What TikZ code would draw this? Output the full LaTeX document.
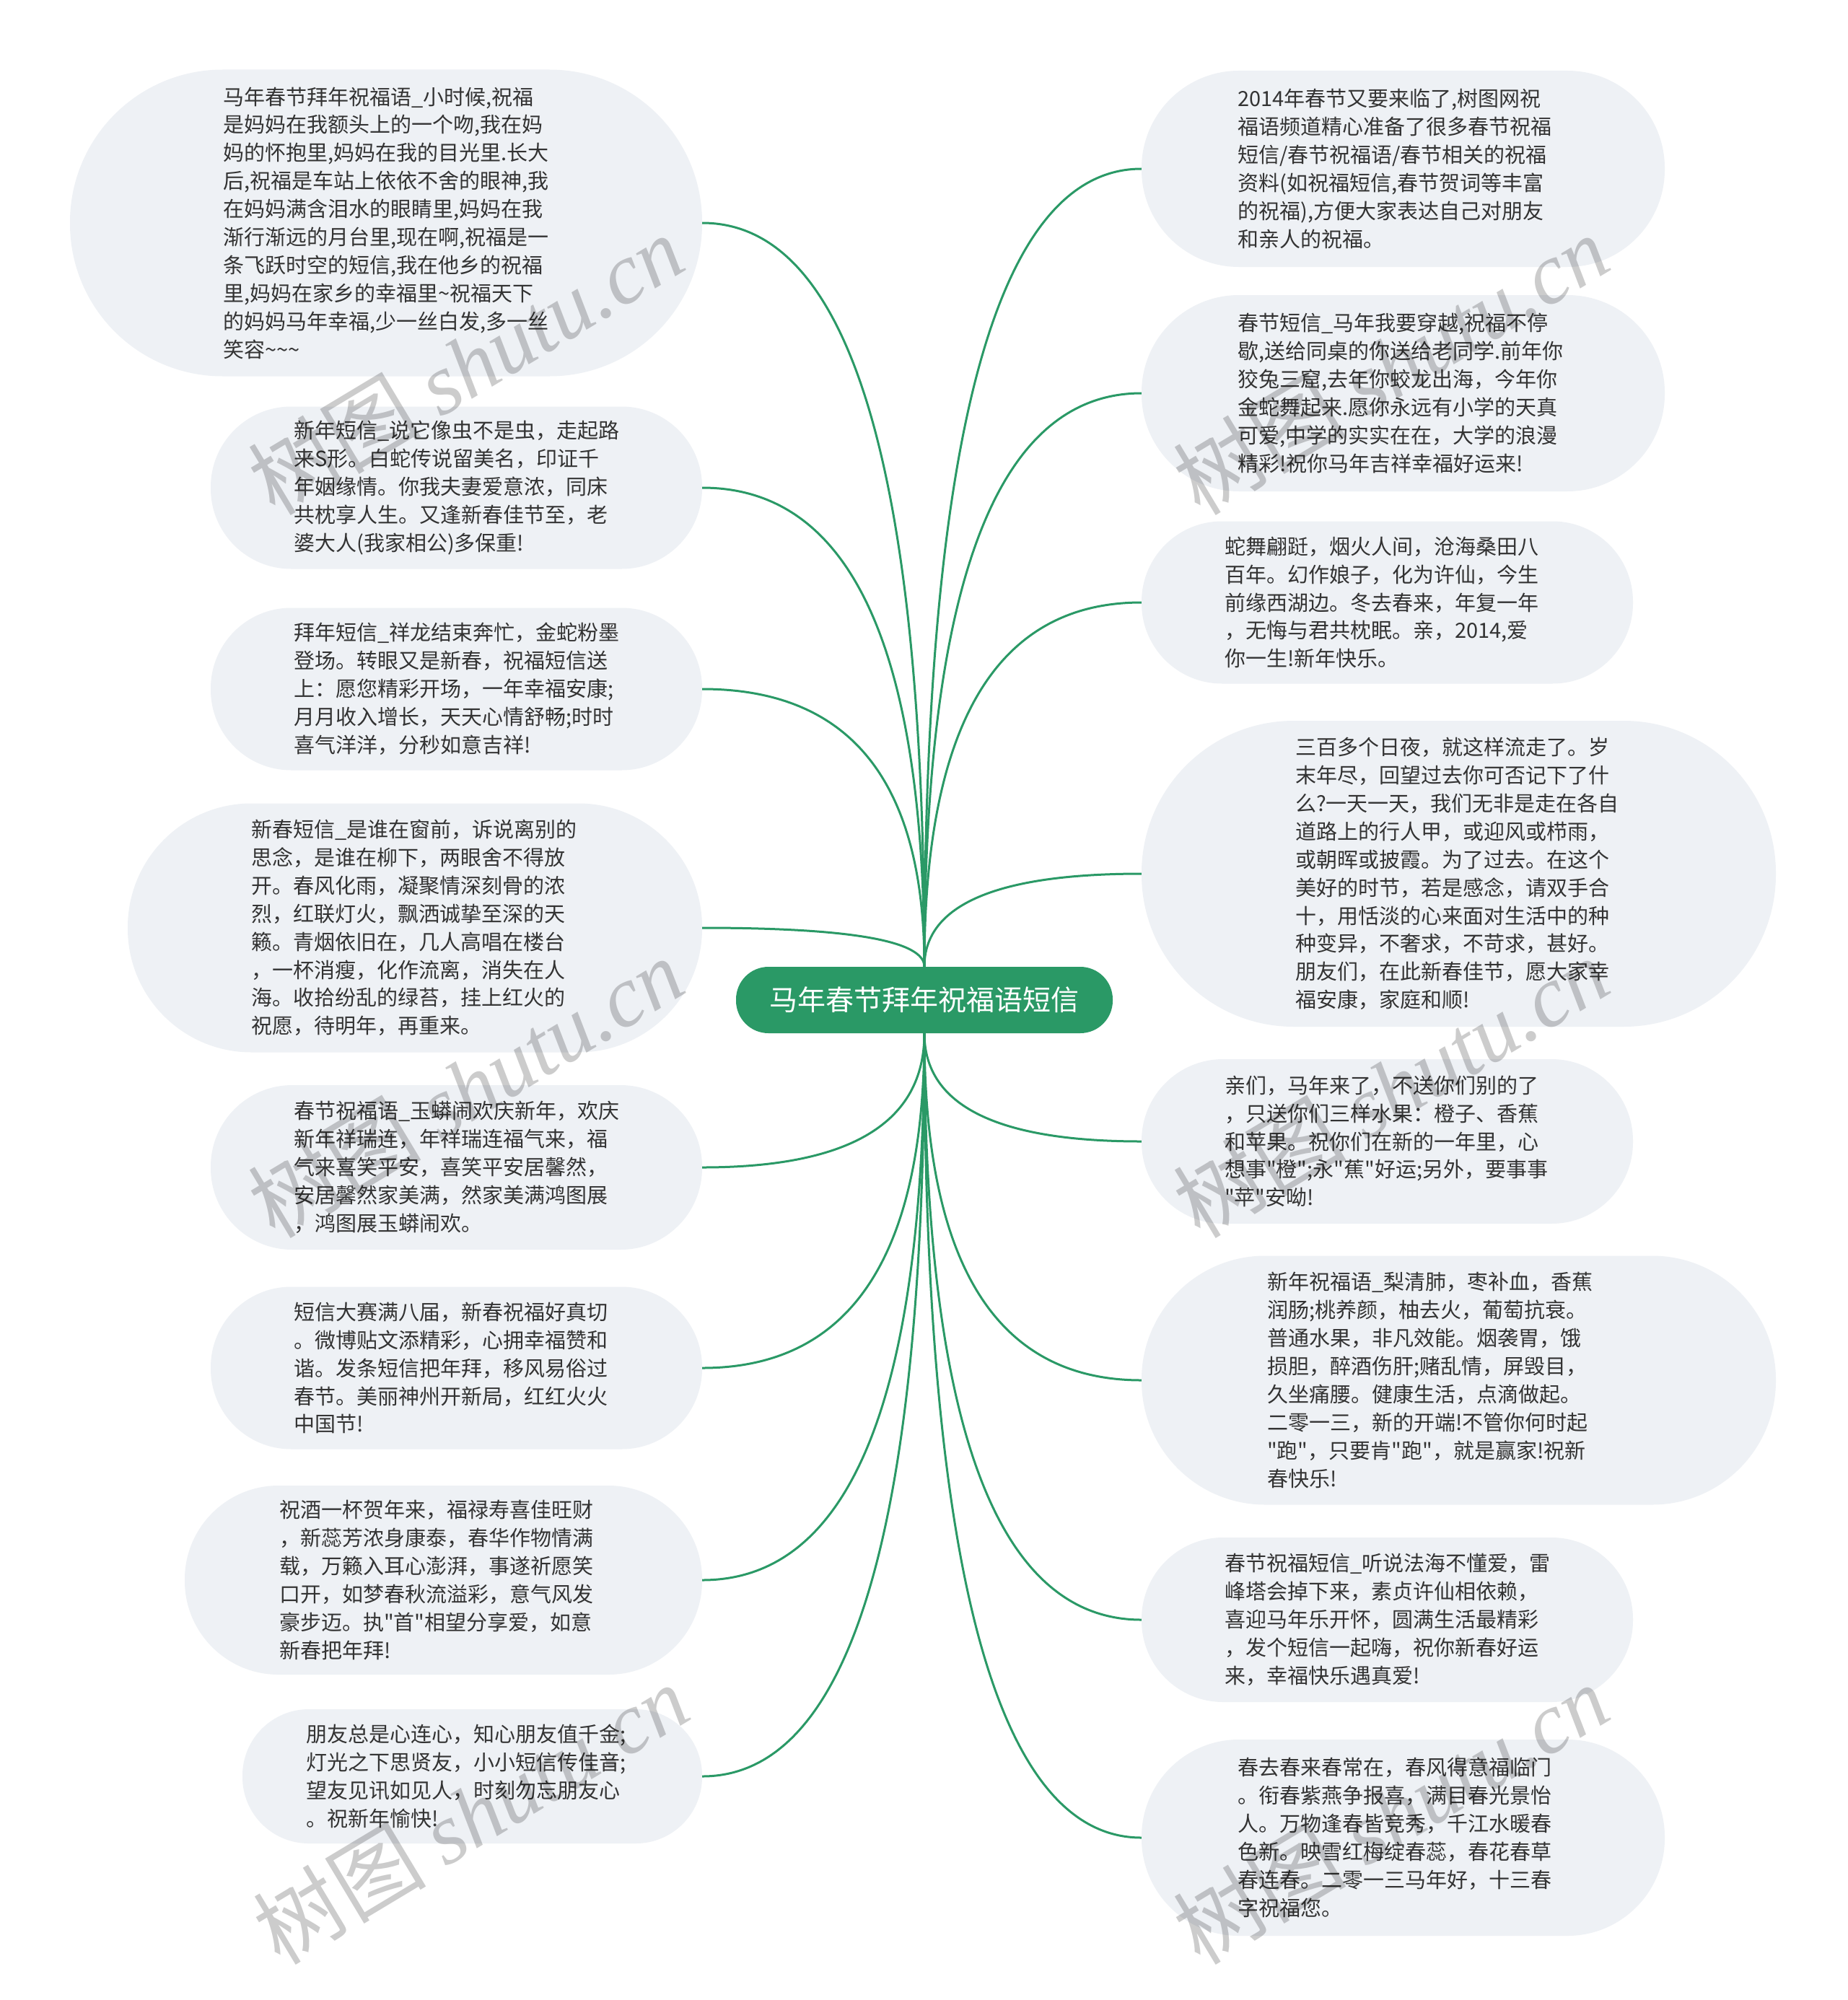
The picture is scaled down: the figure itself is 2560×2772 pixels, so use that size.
\documentclass[tikz,border=0pt]{standalone}
\usepackage{fontspec}
\setmainfont{Noto Sans CJK SC}[Ligatures=TeXOff]
\newfontfamily\wmlatin{Liberation Serif}
\usetikzlibrary{calc}
\definecolor{bubblefill}{HTML}{EEF1F5}
\definecolor{rootgreen}{HTML}{2A9966}
\definecolor{linegreen}{HTML}{2A9966}
\definecolor{txtcol}{HTML}{333333}
\tikzset{
  bubble/.style={draw=none, fill=bubblefill, inner sep=0pt},
  txt/.style={anchor=west, align=left, inner sep=0pt, text=txtcol, font=\fontsize{29}{38.9}\selectfont},
  root/.style={fill=rootgreen, text=white, font=\fontsize{39}{46}\selectfont, minimum width=522pt, minimum height=92pt, rounded corners=45pt, inner sep=0pt},
  conn/.style={draw=linegreen, line width=3pt},
  wm/.style={text=black, opacity=0.2, rotate=31, inner sep=0pt, font=\fontsize{120}{120}\selectfont}
}
\newcommand\mkbubble[7]{%
  \node[bubble, minimum width=#4pt, minimum height=#5pt, rounded corners=\fpeval{#5/2-1}pt] (#1) at (#2,#3) {};
  \node[txt] (#1t) at (#6,#3) {#7};}
\begin{document}
\begin{tikzpicture}[x=1pt, y=-1pt]
\fill[white] (0,0) rectangle (2560,2772);
\useasboundingbox (0,0) rectangle (2560,2772);

\node[root] (c) at (1281,1386) {马年春节拜年祝福语短信};

% left column
\mkbubble{L1}{535}{309}{876}{425}{309}{马年春节拜年祝福语\_小时候,祝福\\是妈妈在我额头上的一个吻,我在妈\\妈的怀抱里,妈妈在我的目光里.长大\\后,祝福是车站上依依不舍的眼神,我\\在妈妈满含泪水的眼睛里,妈妈在我\\渐行渐远的月台里,现在啊,祝福是一\\条飞跃时空的短信,我在他乡的祝福\\里,妈妈在家乡的幸福里\textasciitilde 祝福天下\\的妈妈马年幸福,少一丝白发,多一丝\\笑容\textasciitilde\textasciitilde\textasciitilde}
\mkbubble{L2}{632.5}{676}{681}{225}{407}{新年短信\_说它像虫不是虫，走起路\\来S形。白蛇传说留美名，印证千\\年姻缘情。你我夫妻爱意浓，同床\\共枕享人生。又逢新春佳节至，老\\婆大人(我家相公)多保重!}
\mkbubble{L3}{632.5}{955}{681}{225}{407}{拜年短信\_祥龙结束奔忙，金蛇粉墨\\登场。转眼又是新春，祝福短信送\\上：愿您精彩开场，一年幸福安康;\\月月收入增长，天天心情舒畅;时时\\喜气洋洋，分秒如意吉祥!}
\mkbubble{L4}{575}{1286}{796}{345}{348}{新春短信\_是谁在窗前，诉说离别的\\思念，是谁在柳下，两眼舍不得放\\开。春风化雨，凝聚情深刻骨的浓\\烈，红联灯火，飘洒诚挚至深的天\\籁。青烟依旧在，几人高唱在楼台\\，一杯消瘦，化作流离，消失在人\\海。收拾纷乱的绿苔，挂上红火的\\祝愿，待明年，再重来。}
\mkbubble{L5}{632.5}{1618}{681}{228}{407}{春节祝福语\_玉蟒闹欢庆新年，欢庆\\新年祥瑞连，年祥瑞连福气来，福\\气来喜笑平安，喜笑平安居馨然，\\安居馨然家美满，然家美满鸿图展\\，鸿图展玉蟒闹欢。}
\mkbubble{L6}{632.5}{1896}{681}{225}{407}{短信大赛满八届，新春祝福好真切\\。微博贴文添精彩，心拥幸福赞和\\谐。发条短信把年拜，移风易俗过\\春节。美丽神州开新局，红红火火\\中国节!}
\mkbubble{L7}{614.5}{2190}{717}{262}{387}{祝酒一杯贺年来，福禄寿喜佳旺财\\，新蕊芳浓身康泰，春华作物情满\\载，万籁入耳心澎湃，事遂祈愿笑\\口开，如梦春秋流溢彩，意气风发\\豪步迈。执"首"相望分享爱，如意\\新春把年拜!}
\mkbubble{L8}{654.5}{2462}{637}{186}{424}{朋友总是心连心，知心朋友值千金;\\灯光之下思贤友，小小短信传佳音;\\望友见讯如见人，时刻勿忘朋友心\\。祝新年愉快!}

% right column
\mkbubble{R1}{1944.5}{234}{725}{272}{1715}{2014年春节又要来临了,树图网祝\\福语频道精心准备了很多春节祝福\\短信/春节祝福语/春节相关的祝福\\资料(如祝福短信,春节贺词等丰富\\的祝福),方便大家表达自己对朋友\\和亲人的祝福。}
\mkbubble{R2}{1944.5}{545}{725}{272}{1715}{春节短信\_马年我要穿越,祝福不停\\歇,送给同桌的你送给老同学.前年你\\狡兔三窟,去年你蛟龙出海，今年你\\金蛇舞起来.愿你永远有小学的天真\\可爱,中学的实实在在，大学的浪漫\\精彩!祝你马年吉祥幸福好运来!}
\mkbubble{R3}{1922.5}{835}{681}{225}{1697}{蛇舞翩跹，烟火人间，沧海桑田八\\百年。幻作娘子，化为许仙，今生\\前缘西湖边。冬去春来，年复一年\\，无悔与君共枕眠。亲，2014,爱\\你一生!新年快乐。}
\mkbubble{R4}{2021.5}{1211}{879}{424}{1795}{三百多个日夜，就这样流走了。岁\\末年尽，回望过去你可否记下了什\\么?一天一天，我们无非是走在各自\\道路上的行人甲，或迎风或栉雨，\\或朝晖或披霞。为了过去。在这个\\美好的时节，若是感念，请双手合\\十，用恬淡的心来面对生活中的种\\种变异，不奢求，不苛求，甚好。\\朋友们，在此新春佳节，愿大家幸\\福安康，家庭和顺!}
\mkbubble{R5}{1922.5}{1582}{681}{228}{1697}{亲们，马年来了，不送你们别的了\\，只送你们三样水果：橙子、香蕉\\和苹果。祝你们在新的一年里，心\\想事"橙";永"蕉"好运;另外，要事事\\"苹"安呦!}
\mkbubble{R6}{2021.5}{1913}{879}{345}{1756}{新年祝福语\_梨清肺，枣补血，香蕉\\润肠;桃养颜，柚去火，葡萄抗衰。\\普通水果，非凡效能。烟袭胃，饿\\损胆，醉酒伤肝;赌乱情，屏毁目，\\久坐痛腰。健康生活，点滴做起。\\二零一三，新的开端!不管你何时起\\"跑"，只要肯"跑"，就是赢家!祝新\\春快乐!}
\mkbubble{R7}{1922.5}{2245}{681}{228}{1697}{春节祝福短信\_听说法海不懂爱，雷\\峰塔会掉下来，素贞许仙相依赖，\\喜迎马年乐开怀，圆满生活最精彩\\，发个短信一起嗨，祝你新春好运\\来，幸福快乐遇真爱!}
\mkbubble{R8}{1944.5}{2547}{725}{272}{1715}{春去春来春常在，春风得意福临门\\。衔春紫燕争报喜，满目春光景怡\\人。万物逢春皆竞秀，千江水暖春\\色新。映雪红梅绽春蕊，春花春草\\春连春。二零一三马年好，十三春\\字祝福您。}

% connectors
\foreach \n in {L1,L2,L3,L4}{
  \draw[conn] (c.north) .. controls ($(c.north)!0.667!(c.north|-\n.east)$) and ($(\n.east)!0.667!(c.north|-\n.east)$) .. (\n.east);}
\foreach \n in {R1,R2,R3,R4}{
  \draw[conn] (c.north) .. controls ($(c.north)!0.667!(c.north|-\n.west)$) and ($(\n.west)!0.667!(c.north|-\n.west)$) .. (\n.west);}
\foreach \n in {L5,L6,L7,L8}{
  \draw[conn] (c.south) .. controls ($(c.south)!0.667!(c.south|-\n.east)$) and ($(\n.east)!0.667!(c.south|-\n.east)$) .. (\n.east);}
\foreach \n in {R5,R6,R7,R8}{
  \draw[conn] (c.south) .. controls ($(c.south)!0.667!(c.south|-\n.west)$) and ($(\n.west)!0.667!(c.south|-\n.west)$) .. (\n.west);}

% watermarks
\node[wm] (wm1) at (645,505) {树图 {\wmlatin\itshape shutu.cn}};
\node[wm] (wm2) at (645,1507) {树图 {\wmlatin\itshape shutu.cn}};
\node[wm] (wm3) at (652,2514) {树图 {\wmlatin\itshape shutu.cn}};
\node[wm] (wm4) at (1927,505) {树图 {\wmlatin\itshape shutu.cn}};
\node[wm] (wm5) at (1927,1507) {树图 {\wmlatin\itshape shutu.cn}};
\node[wm] (wm6) at (1927,2514) {树图 {\wmlatin\itshape shutu.cn}};
\end{tikzpicture}
\end{document}
